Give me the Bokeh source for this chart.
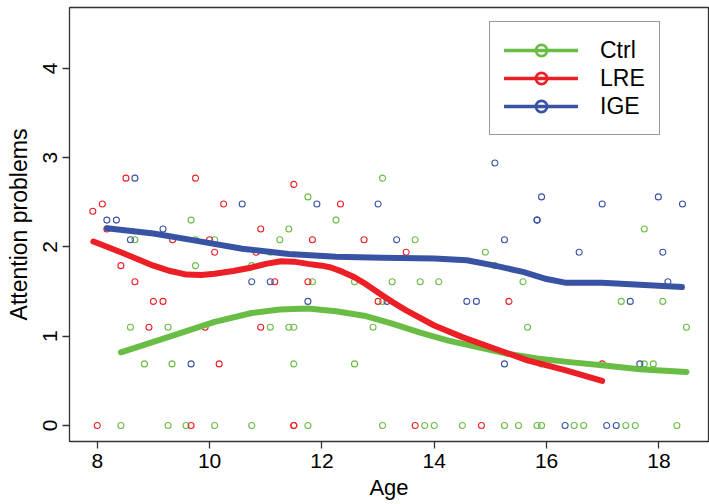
from bokeh.plotting import figure
from bokeh.models import Range1d, Legend, LegendItem, FixedTicker
from bokeh.embed import file_html
from bokeh.resources import INLINE

# ---------------- data ----------------
ctrl_age = [8.42, 9.26, 9.58, 10.09, 10.75, 11.75, 13.08, 13.83, 14.0, 14.5, 15.25, 15.5, 15.83, 15.91,
            16.49, 16.66, 17.41, 17.58, 18.32,
            8.84, 9.33, 11.5, 12.58, 15.91, 17.74, 17.9,
            8.59, 9.26, 11.08, 11.41, 11.5, 12.91, 15.66, 18.49,
            13.08, 17.33, 18.07,
            11.83, 12.58, 13.25, 13.75, 14.08, 15.58,
            9.75, 10.75, 15.08,
            11.08, 14.91,
            8.67, 9.75, 10.09, 11.25, 13.66,
            11.41, 17.74,
            9.67, 12.25,
            11.75,
            13.08]
ctrl_att = [0.0] * 19 + [0.69] * 7 + [1.1] * 8 + [1.39] * 3 + [1.61] * 6 + [1.79] * 3 + [1.94] * 2 + \
           [2.08] * 5 + [2.2] * 2 + [2.3] * 2 + [2.56] + [2.77]

lre_age = [8.0, 9.67, 11.5, 11.5, 13.66, 14.84,
           10.17, 16.99,
           8.92, 9.92, 10.91,
           9.0, 9.17, 13.0, 15.33,
           8.67, 11.16, 11.75,
           8.42,
           10.09, 10.83, 13.5,
           9.34, 10.0, 11.83, 12.75,
           8.17, 10.91,
           7.92,
           8.09, 10.25, 12.33,
           11.5,
           8.51, 9.75]
lre_att = [0.0] * 6 + [0.69] * 2 + [1.1] * 3 + [1.39] * 4 + [1.61] * 3 + [1.79] + [1.94] * 3 + \
          [2.08] * 4 + [2.2] * 2 + [2.4] + [2.48] * 3 + [2.7] + [2.77] * 2

ige_age = [16.33, 17.07, 17.24,
           9.67, 15.25, 17.66,
           11.75, 13.16, 14.58, 14.75, 17.49,
           10.75, 11.08, 18.16,
           16.58, 18.07,
           8.59, 13.33, 15.25,
           9.17,
           8.17, 8.34, 15.83, 15.83,
           10.58, 11.91, 13.0, 16.99, 18.42,
           15.91, 17.99,
           8.67,
           15.08]
ige_att = [0.0] * 3 + [0.69] * 3 + [1.39] * 5 + [1.61] * 3 + [1.94] * 2 + [2.08] * 3 + [2.2] + \
          [2.3] * 4 + [2.48] * 5 + [2.56] * 2 + [2.77] + [2.94]

# smoothed trend curves
ctrl_fit_age = [8.42, 9.26, 10.09, 10.75, 11.25, 11.75, 12.25, 12.75, 13.25, 13.75, 14.25, 14.75,
                15.25, 15.83, 16.41, 16.99, 17.66, 18.49]
ctrl_fit_att = [0.82, 0.99, 1.16, 1.26, 1.30, 1.31, 1.28, 1.23, 1.14, 1.04, 0.95, 0.88,
                0.81, 0.75, 0.71, 0.675, 0.63, 0.60]

lre_fit_age = [7.93, 8.42, 9.0, 9.3, 9.59, 9.85, 10.09, 10.42, 10.75, 11.0, 11.27, 11.5, 11.75,
               12.0, 12.16, 12.37, 12.58, 12.79, 13.0, 13.25, 13.5, 14.0, 14.5, 15.08, 15.66,
               16.33, 16.99]
lre_fit_att = [2.06, 1.94, 1.79, 1.73, 1.69, 1.685, 1.70, 1.73, 1.77, 1.81, 1.84, 1.835, 1.81,
               1.79, 1.77, 1.72, 1.66, 1.58, 1.49, 1.385, 1.29, 1.12, 0.99, 0.86, 0.73,
               0.62, 0.50]

ige_fit_age = [8.17, 9.0, 9.75, 10.58, 11.41, 12.25, 13.08, 14.0, 14.58, 15.08, 15.58, 16.0,
               16.33, 16.99, 17.66, 18.41]
ige_fit_att = [2.21, 2.15, 2.07, 1.98, 1.92, 1.89, 1.88, 1.87, 1.85, 1.79, 1.72, 1.64,
               1.60, 1.60, 1.575, 1.55]

group_names = ["Ctrl", "LRE", "IGE"]
x_ticks = [8, 10, 12, 14, 16, 18]
y_ticks = [0, 1, 2, 3, 4]

# ---------------- styling ----------------
GREEN = "#69bd45"
RED = "#ec1f26"
BLUE = "#3953a4"
FONT = "Liberation Sans"
NAN = float("nan")

p = figure(width=709, height=504, output_backend="svg", toolbar_location=None,
           x_range=Range1d(7.505, 18.883), y_range=Range1d(-0.179, 4.681),
           min_border_left=69, min_border_bottom=63, min_border_top=7, min_border_right=1)

p.grid.visible = False
p.outline_line_color = "#333333"
p.outline_line_width = 1.3
p.background_fill_color = "white"

for ax in (p.xaxis[0], p.yaxis[0]):
    ax.axis_line_color = None
    ax.major_tick_line_color = "#333333"
    ax.major_tick_line_width = 1.3
    ax.major_tick_out = 7
    ax.major_tick_in = 0
    ax.minor_tick_line_color = None
    ax.major_label_text_font = FONT
    ax.major_label_text_font_size = "21px"
    ax.major_label_text_color = "black"
    ax.axis_label_text_font = FONT
    ax.axis_label_text_font_style = "normal"
    ax.axis_label_text_color = "black"

p.xaxis.ticker = FixedTicker(ticks=x_ticks)
p.yaxis.ticker = FixedTicker(ticks=y_ticks)
p.xaxis.axis_label = "Age"
p.yaxis.axis_label = "Attention problems"
p.xaxis.axis_label_text_font_size = "22px"
p.yaxis.axis_label_text_font_size = "23px"
p.yaxis.major_label_orientation = "vertical"
p.xaxis.major_label_standoff = 5
p.yaxis.major_label_standoff = 5
p.xaxis.axis_label_standoff = 4
p.yaxis.axis_label_standoff = 9

# points
p.scatter(ctrl_age, ctrl_att, marker="circle", size=6, fill_color=None, line_color=GREEN, line_width=1.1)
p.scatter(lre_age, lre_att, marker="circle", size=6, fill_color=None, line_color=RED, line_width=1.1)
p.scatter(ige_age, ige_att, marker="circle", size=6, fill_color=None, line_color=BLUE, line_width=1.1)

# smooth curves
p.line(ctrl_fit_age, ctrl_fit_att, line_color=GREEN, line_width=6, line_cap="round", line_join="round")
p.line(lre_fit_age, lre_fit_att, line_color=RED, line_width=6, line_cap="round", line_join="round")
p.line(ige_fit_age, ige_fit_att, line_color=BLUE, line_width=6, line_cap="round", line_join="round")

# legend (line + hollow circle); proxy renderers hold no visible data
items = []
for name, col in zip(group_names, [GREEN, RED, BLUE]):
    lr = p.line([NAN, NAN], [NAN, NAN], line_color=col, line_width=3.3, line_cap="round")
    sr = p.scatter([NAN], [NAN], marker="circle", fill_color=None, line_color=col, line_width=2.6)
    items.append(LegendItem(label=name, renderers=[lr, sr], index=0))

legend = Legend(items=items, location=(420, 306), orientation="vertical",
                padding=14, spacing=0, margin=0,
                glyph_width=74, glyph_height=28, label_height=28, label_width=44,
                label_standoff=22,
                label_text_font=FONT, label_text_font_size="23px", label_text_color="black",
                border_line_color="#333333", border_line_width=1.3,
                background_fill_color="white", background_fill_alpha=1.0)
p.add_layout(legend)

open("out.html", "w").write(file_html(p, INLINE))
